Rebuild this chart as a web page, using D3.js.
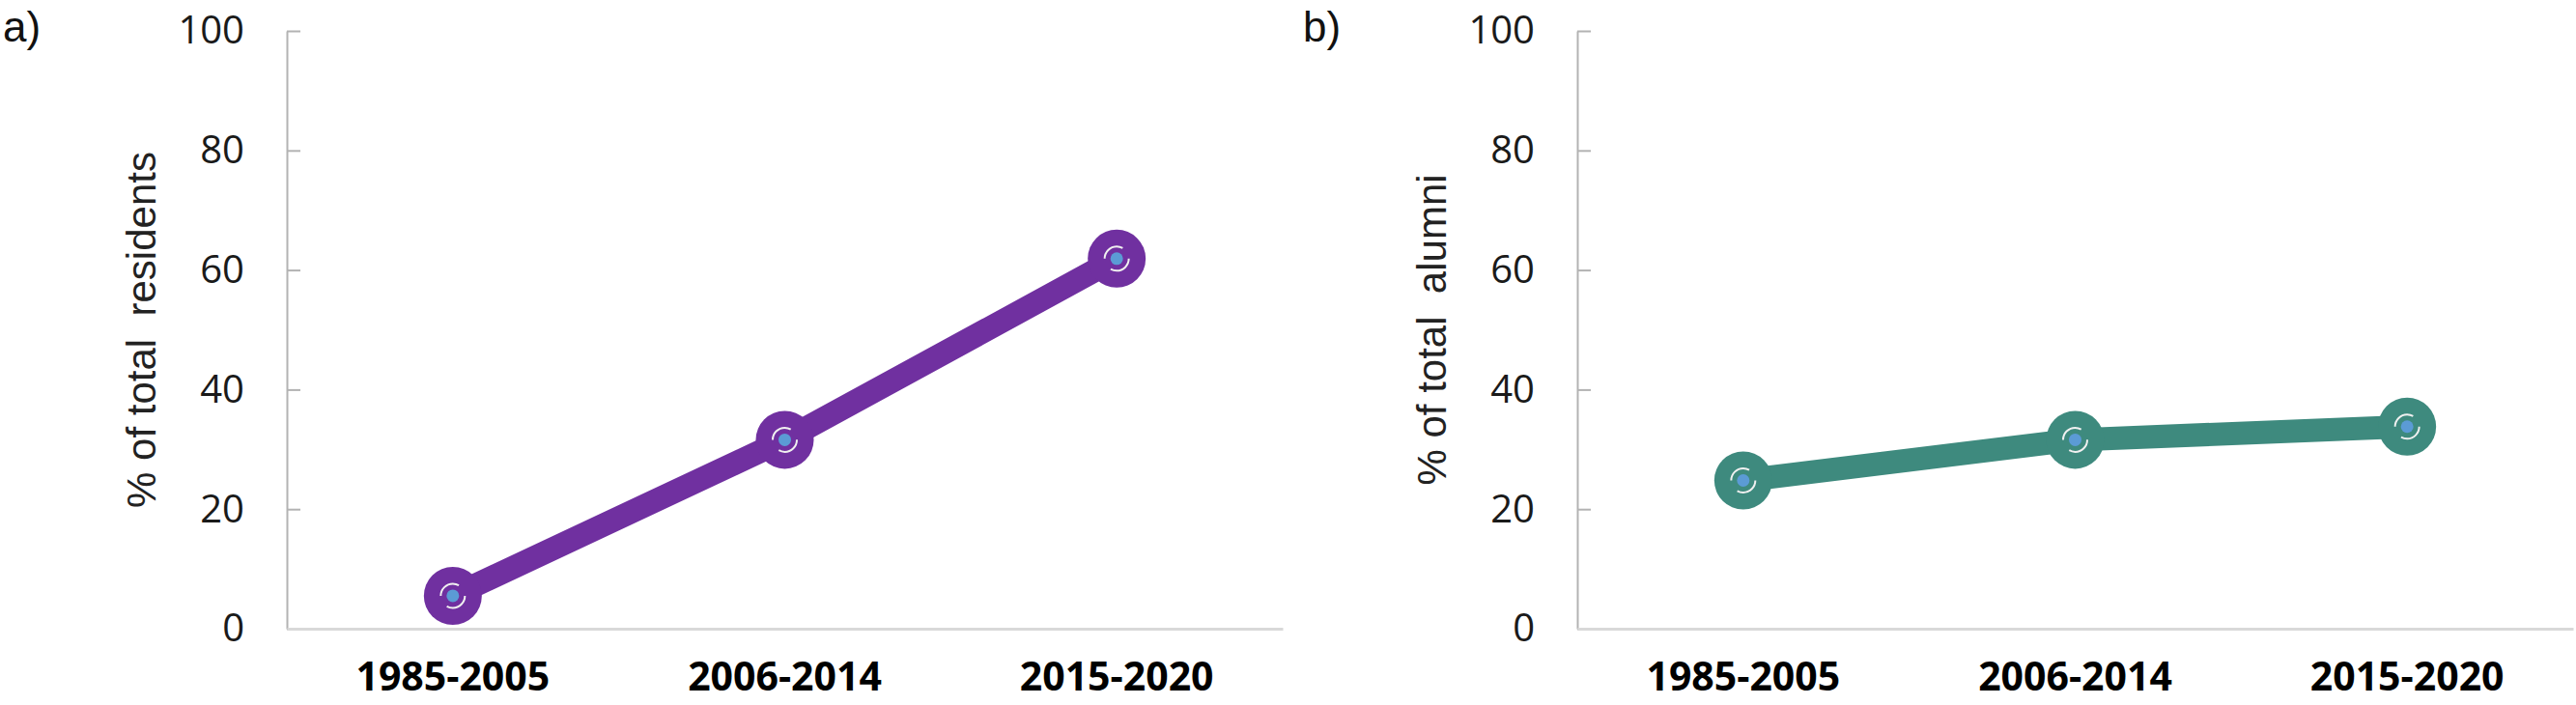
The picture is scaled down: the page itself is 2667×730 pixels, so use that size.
<!DOCTYPE html>
<html>
<head>
<meta charset="utf-8">
<script src="https://cdn.jsdelivr.net/npm/d3@7"></script>
<style>
  body { margin: 0; background: #fff; }
  text { white-space: pre; }
</style>
</head>
<body>
<div id="wrapper"></div>
<script>
const periods = ["1985-2005", "2006-2014", "2015-2020"];
const residentsPct = [5.5, 31.6, 61.9];
const alumniPct = [24.8, 31.6, 33.8];
const yTicks = [0, 20, 40, 60, 80, 100];

function buildPlot() {
    const dimension = {
        width: 2667,
        height: 730,
        panelWidth: 1031,
        margin: { top: 32, bottom: 79 }
    };
    dimension.boundedHeight = dimension.height - dimension.margin.top - dimension.margin.bottom;

    const svg = d3.select("#wrapper").append("svg")
        .attr("width", dimension.width)
        .attr("height", dimension.height);

    const panels = [
        { tag: "a)", tagX: 3, left: 297, values: residentsPct, color: "#7030A0", title: "% of total  residents" },
        { tag: "b)", tagX: 1349, left: 1633, values: alumniPct, color: "#3E8A7E", title: "% of total  alumni" }
    ];

    const yScaler = d3.scaleLinear()
        .domain([0, 100])
        .range([dimension.boundedHeight, 0]);

    const xScaler = d3.scaleBand()
        .domain(periods)
        .range([0, dimension.panelWidth]);

    panels.forEach(p => {
        svg.append("text")
            .attr("x", p.tagX)
            .attr("y", 43)
            .attr("font-family", "Liberation Sans, Arial, sans-serif")
            .attr("font-size", 44)
            .attr("fill", "#111")
            .text(p.tag);

        const bounded = svg.append("g")
            .attr("transform", `translate(${p.left},${dimension.margin.top})`);

        // y axis, ticks point inward
        const yAxis = bounded.append("g")
            .call(d3.axisLeft(yScaler).tickValues(yTicks).tickSize(-14).tickSizeOuter(0).tickPadding(44));
        yAxis.select(".domain").attr("stroke", "#b3b3b3").attr("stroke-width", 2);
        yAxis.selectAll(".tick line").attr("stroke", "#b3b3b3").attr("stroke-width", 2);
        yAxis.selectAll(".tick text")
            .attr("font-family", "Open Sans, sans-serif")
            .attr("font-size", 40)
            .attr("fill", "#1a1a1a");

        // x axis
        const xAxis = bounded.append("g")
            .attr("transform", `translate(0,${dimension.boundedHeight})`)
            .call(d3.axisBottom(xScaler).tickSize(0).tickPadding(35));
        xAxis.select(".domain").attr("stroke", "#d9d9d9").attr("stroke-width", 3);
        xAxis.selectAll(".tick text")
            .attr("font-family", "Open Sans, sans-serif")
            .attr("font-weight", "bold")
            .attr("font-size", 41)
            .attr("fill", "#000");

        bounded.append("text")
            .attr("transform", `translate(-136,${dimension.boundedHeight / 2}) rotate(-90)`)
            .attr("text-anchor", "middle")
            .attr("font-family", "Liberation Sans, Arial, sans-serif")
            .attr("font-size", 42)
            .attr("fill", "#222")
            .text(p.title);

        const data = periods.map((d, i) => ({ period: d, value: p.values[i] }));
        const xAccessor = d => xScaler(d.period) + xScaler.bandwidth() / 2;
        const yAccessor = d => yScaler(d.value);

        const lineGenerator = d3.line()
            .x(xAccessor)
            .y(yAccessor);

        bounded.append("path")
            .attr("d", lineGenerator(data))
            .attr("fill", "none")
            .attr("stroke", p.color)
            .attr("stroke-width", 24)
            .attr("stroke-linejoin", "round");

        const markers = bounded.selectAll(".marker")
            .data(data)
            .join("g")
            .attr("class", "marker")
            .attr("transform", d => `translate(${xAccessor(d)},${yAccessor(d)})`);

        markers.append("circle")
            .attr("r", 30)
            .attr("fill", p.color);

        markers.append("circle")
            .attr("r", 12.5)
            .attr("fill", "none")
            .attr("stroke", "#f0f0f0")
            .attr("stroke-width", 2)
            .attr("stroke-dasharray", "26 13");

        markers.append("circle")
            .attr("r", 6.5)
            .attr("fill", "#5B9BD5");
    });
}

buildPlot();
</script>
</body>
</html>
